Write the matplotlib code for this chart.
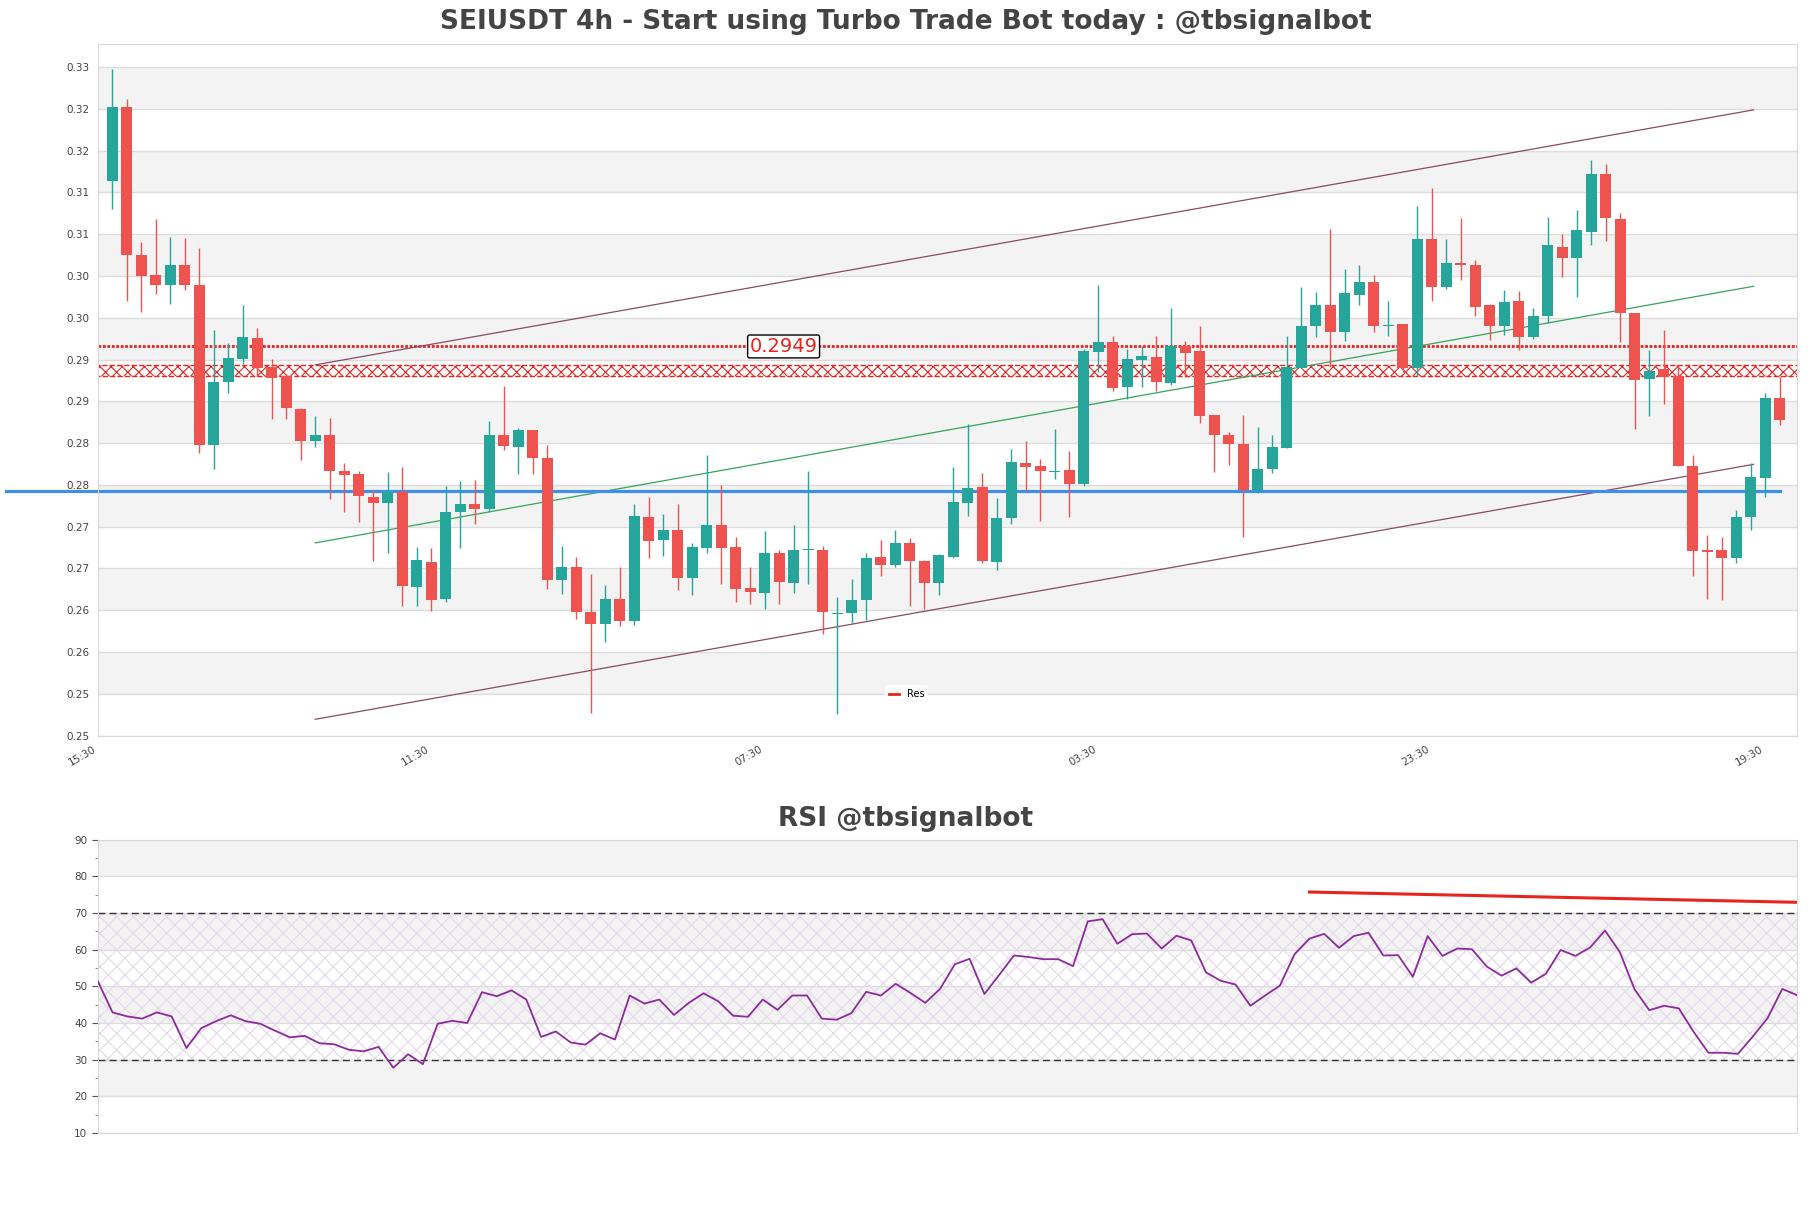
import numpy as np
import matplotlib
matplotlib.use("Agg")
import matplotlib.pyplot as plt
from matplotlib.lines import Line2D

plt.rcParams['hatch.linewidth'] = 0.8

# candle data (4h)
opens = [0.3147, 0.3235, 0.3059, 0.3034, 0.3022, 0.3047, 0.3023, 0.2831, 0.2906, 0.2934,
         0.2959, 0.2924, 0.2914, 0.2874, 0.2836, 0.2843, 0.2800, 0.2796, 0.2769, 0.2762,
         0.2775, 0.2661, 0.2691, 0.2647, 0.2751, 0.2760, 0.2754, 0.2843, 0.2829, 0.2849,
         0.2815, 0.2670, 0.2685, 0.2631, 0.2617, 0.2647, 0.2620, 0.2745, 0.2717, 0.2730,
         0.2672, 0.2708, 0.2736, 0.2709, 0.2660, 0.2654, 0.2702, 0.2666, 0.2705, 0.2706,
         0.2629, 0.2630, 0.2646, 0.2697, 0.2687, 0.2714, 0.2692, 0.2666, 0.2697, 0.2762,
         0.2781, 0.2691, 0.2744, 0.2810, 0.2806, 0.2799, 0.2801, 0.2784, 0.2942, 0.2954,
         0.2900, 0.2933, 0.2936, 0.2905, 0.2950, 0.2943, 0.2867, 0.2843, 0.2832, 0.2777,
         0.2802, 0.2827, 0.2923, 0.2973, 0.2998, 0.2966, 0.3011, 0.3026, 0.2973, 0.2976,
         0.2923, 0.3078, 0.3020, 0.3049, 0.3046, 0.2998, 0.2974, 0.3003, 0.2960, 0.2985,
         0.3068, 0.3055, 0.3086, 0.3155, 0.3102, 0.2989, 0.2910, 0.2922, 0.2914, 0.2806,
         0.2705, 0.2705, 0.2696, 0.2745, 0.2792, 0.2887]
highs = [0.3281, 0.3245, 0.3074, 0.3102, 0.3080, 0.3079, 0.3067, 0.2969, 0.2953, 0.2998,
         0.2971, 0.2934, 0.2916, 0.2875, 0.2866, 0.2863, 0.2809, 0.2800, 0.2777, 0.2799,
         0.2805, 0.2709, 0.2708, 0.2782, 0.2788, 0.2789, 0.2860, 0.2902, 0.2851, 0.2849,
         0.2831, 0.2710, 0.2697, 0.2677, 0.2664, 0.2685, 0.2761, 0.2769, 0.2749, 0.2760,
         0.2714, 0.2819, 0.2783, 0.2721, 0.2685, 0.2728, 0.2705, 0.2735, 0.2800, 0.2710,
         0.2649, 0.2671, 0.2702, 0.2718, 0.2729, 0.2720, 0.2694, 0.2701, 0.2805, 0.2856,
         0.2798, 0.2768, 0.2826, 0.2836, 0.2814, 0.2850, 0.2824, 0.2946, 0.3023, 0.2961,
         0.2946, 0.2949, 0.2961, 0.2995, 0.2955, 0.2974, 0.2867, 0.2847, 0.2867, 0.2853,
         0.2843, 0.2962, 0.3020, 0.3014, 0.3089, 0.3042, 0.3046, 0.3034, 0.3003, 0.2976,
         0.3117, 0.3138, 0.3077, 0.3103, 0.3053, 0.3000, 0.3017, 0.3015, 0.2995, 0.3104,
         0.3083, 0.3112, 0.3172, 0.3167, 0.3109, 0.2989, 0.2945, 0.2969, 0.2926, 0.2819,
         0.2723, 0.2721, 0.2753, 0.2810, 0.2893, 0.2914]
lows = [0.3114, 0.3003, 0.2990, 0.3012, 0.3000, 0.3017, 0.2822, 0.2802, 0.2893, 0.2928,
        0.2915, 0.2862, 0.2862, 0.2813, 0.2829, 0.2766, 0.2751, 0.2739, 0.2692, 0.2702,
        0.2638, 0.2638, 0.2633, 0.2643, 0.2708, 0.2737, 0.2751, 0.2825, 0.2797, 0.2797,
        0.2659, 0.2653, 0.2623, 0.2511, 0.2595, 0.2614, 0.2616, 0.2696, 0.2698, 0.2658,
        0.2652, 0.2702, 0.2665, 0.2643, 0.2641, 0.2635, 0.2641, 0.2654, 0.2665, 0.2605,
        0.2509, 0.2618, 0.2622, 0.2675, 0.2685, 0.2638, 0.2635, 0.2652, 0.2696, 0.2746,
        0.2690, 0.2682, 0.2737, 0.2776, 0.2740, 0.2791, 0.2745, 0.2782, 0.2919, 0.2896,
        0.2886, 0.2901, 0.2896, 0.2903, 0.2912, 0.2857, 0.2799, 0.2807, 0.2721, 0.2774,
        0.2798, 0.2827, 0.2923, 0.2960, 0.2925, 0.2956, 0.2998, 0.2966, 0.2961, 0.2919,
        0.2914, 0.3003, 0.3018, 0.3029, 0.2986, 0.2957, 0.2963, 0.2945, 0.2958, 0.2977,
        0.3032, 0.3008, 0.3070, 0.3075, 0.2954, 0.2850, 0.2866, 0.2880, 0.2806, 0.2675,
        0.2647, 0.2646, 0.2690, 0.2730, 0.2769, 0.2855]
closes = [0.3235, 0.3059, 0.3033, 0.3022, 0.3047, 0.3022, 0.2831, 0.2906, 0.2935, 0.2960,
          0.2923, 0.2911, 0.2875, 0.2836, 0.2843, 0.2800, 0.2795, 0.2770, 0.2762, 0.2775,
          0.2662, 0.2693, 0.2646, 0.2751, 0.2760, 0.2754, 0.2843, 0.2830, 0.2849, 0.2815,
          0.2670, 0.2685, 0.2631, 0.2617, 0.2647, 0.2620, 0.2746, 0.2716, 0.2729, 0.2672,
          0.2709, 0.2736, 0.2708, 0.2659, 0.2655, 0.2702, 0.2667, 0.2705, 0.2706, 0.2631,
          0.2630, 0.2646, 0.2696, 0.2687, 0.2714, 0.2692, 0.2666, 0.2699, 0.2763, 0.2780,
          0.2692, 0.2744, 0.2811, 0.2805, 0.2800, 0.2800, 0.2784, 0.2943, 0.2954, 0.2899,
          0.2934, 0.2938, 0.2906, 0.2950, 0.2941, 0.2866, 0.2843, 0.2832, 0.2777, 0.2803,
          0.2829, 0.2925, 0.2974, 0.2999, 0.2966, 0.3013, 0.3026, 0.2973, 0.2975, 0.2923,
          0.3078, 0.3020, 0.3049, 0.3046, 0.2996, 0.2974, 0.3002, 0.2960, 0.2986, 0.3070,
          0.3055, 0.3088, 0.3155, 0.3103, 0.2989, 0.2909, 0.2920, 0.2912, 0.2806, 0.2704,
          0.2703, 0.2696, 0.2745, 0.2793, 0.2887, 0.2861]

rsi = [51.4, 42.9, 41.8, 41.2, 42.9, 41.8, 33.2, 38.6, 40.5, 42.1,
       40.5, 39.8, 37.9, 36.1, 36.5, 34.5, 34.2, 32.7, 32.3, 33.5,
       27.8, 31.5, 28.8, 39.8, 40.6, 40.0, 48.4, 47.3, 48.9, 46.4,
       36.2, 37.7, 34.7, 34.1, 37.2, 35.5, 47.5, 45.3, 46.4, 42.2,
       45.5, 48.1, 45.9, 42.0, 41.7, 46.4, 43.6, 47.5, 47.5, 41.2,
       40.9, 42.7, 48.5, 47.5, 50.7, 48.2, 45.5, 49.3, 56.0, 57.5,
       47.9, 53.1, 58.4, 58.0, 57.4, 57.4, 55.5, 67.7, 68.3, 61.6,
       64.2, 64.4, 60.3, 63.8, 62.5, 53.8, 51.5, 50.5, 44.7, 47.5,
       50.2, 58.8, 63.0, 64.3, 60.5, 63.7, 64.6, 58.4, 58.5, 52.6,
       63.7, 58.3, 60.3, 60.1, 55.4, 52.9, 54.9, 51.0, 53.4, 59.9,
       58.3, 60.6, 65.2, 59.4, 49.2, 43.5, 44.7, 44.0, 37.6, 31.9,
       31.9, 31.6, 36.3, 41.3, 49.3, 47.6]

tick_labels = ['15:30', '11:30', '07:30', '03:30', '23:30', '19:30']
tick_pos = [0, 23, 46, 69, 92, 115]

res_level = 0.2949
zone_low, zone_high = 0.2914, 0.2927
support_level = 0.2776
support_x = [-6.3, 116]

chan_x = [15, 114.2]
chan_upper = [0.2927, 0.3232]
chan_mid = [0.2714, 0.3021]
chan_lower = [0.2503, 0.2808]

rsi_trend_x = [82, 115]
rsi_trend_y = [75.7, 72.9]

GREEN = '#26a69a'
RED = '#ef5350'

fig = plt.figure(figsize=(18.11, 12.08), dpi=100)
ax = fig.add_axes([0.054, 0.391, 0.9383, 0.5727])
ax2 = fig.add_axes([0.054, 0.062, 0.9383, 0.243])

# ---- price panel ----
y_ticks = 0.24834 + 0.005 * np.arange(17)
ax.set_ylim(y_ticks[0], 0.3311)
ax.set_xlim(0, 117.2)
for j in range(1, 16, 2):
    ax.axhspan(y_ticks[j], y_ticks[j + 1], color='#f3f3f3', zorder=0, lw=0)
for t in y_ticks:
    ax.axhline(t, color='#dddddd', lw=1, zorder=0.5)

ax.fill_between([-5, 125], zone_low, zone_high, facecolor='white', edgecolor='#e8241f',
                hatch='xxx', linestyle='--', lw=1, zorder=1)
ax.axhline(res_level, color='#e8241f', lw=2, linestyle=(0, (1, 0.6)), zorder=1.5)
ax.text(47.3, res_level, '%.4f' % res_level, color='#e8241f', fontsize=14, ha='center', va='center',
        bbox=dict(boxstyle='round,pad=0.1', fc='white', ec='black', lw=1), zorder=6)

ax.plot(chan_x, chan_upper, color='#8b4a63', lw=0.9, zorder=2)
ax.plot(chan_x, chan_lower, color='#8b4a63', lw=0.9, zorder=2)
ax.plot(chan_x, chan_mid, color='#35a55a', lw=0.9, zorder=2)
ax.plot(support_x, [support_level, support_level], color='#3f8fe8', lw=2.3, zorder=2.5, clip_on=False)

x = np.arange(1, len(opens) + 1)
o = np.array(opens)
c = np.array(closes)
colors = [GREEN if cc >= oo else RED for oo, cc in zip(o, c)]
ax.vlines(x, lows, highs, colors=colors, lw=1, zorder=3)
body = np.where(np.abs(c - o) < 0.00012, 0.00012, np.abs(c - o))
ax.bar(x, body, bottom=np.minimum(o, c), width=0.76, color=colors, zorder=4)

ax.legend(handles=[Line2D([], [], color='#e8241f', lw=2)], labels=['Res'], loc='center',
          bbox_to_anchor=(0.476, 0.06), fontsize=7, frameon=True, edgecolor='none',
          framealpha=0.85, handlelength=1.0)

ax.set_yticks(y_ticks)
ax.set_yticklabels(['%.2f' % t for t in y_ticks])
ax.set_xticks(tick_pos)
ax.set_xticklabels(tick_labels, rotation=30, ha='right')
ax.tick_params(axis='both', length=0, labelsize=7.5, labelcolor='#444444', pad=6)
for s in ax.spines.values():
    s.set_color('#d9d9d9')
fig.text(0.5, 0.9818, 'SEIUSDT 4h - Start using Turbo Trade Bot today : @tbsignalbot', fontsize=19,
         fontweight='bold', color='#444444', ha='center', va='center')

# ---- RSI panel ----
ax2.set_xlim(0, len(rsi) - 1)
ax2.set_ylim(10, 90)
for lo in [20, 40, 60, 80]:
    ax2.axhspan(lo, lo + 10, color='#f3f3f3', zorder=0, lw=0)
for t in range(10, 91, 10):
    ax2.axhline(t, color='#dddddd', lw=1, zorder=0.5)
ax2.fill_between([-5, 125], 30, 70, facecolor='none', edgecolor='#e4d9ea', hatch='xx', lw=0, zorder=1)
ax2.axhline(70, color='#333333', lw=1, linestyle=(0, (5, 3)), zorder=2)
ax2.axhline(30, color='#333333', lw=1, linestyle=(0, (5, 3)), zorder=2)
ax2.plot(np.arange(len(rsi)), rsi, color='#8e2a9e', lw=1.3, zorder=3)
ax2.plot(rsi_trend_x, rsi_trend_y, color='#e8241f', lw=2.2, zorder=3)

ax2.set_yticks(range(10, 91, 10))
ax2.set_yticks(range(15, 90, 10), minor=True)
ax2.set_xticks([])
ax2.tick_params(axis='y', which='major', length=4, color='#555555', labelsize=7.5, labelcolor='#444444')
ax2.tick_params(axis='y', which='minor', length=2.5, color='#777777')
for s in ax2.spines.values():
    s.set_color('#d9d9d9')
fig.text(0.5, 0.322, 'RSI @tbsignalbot', fontsize=19, fontweight='bold', color='#444444',
         ha='center', va='center')

fig.savefig('out.png', dpi=100)
